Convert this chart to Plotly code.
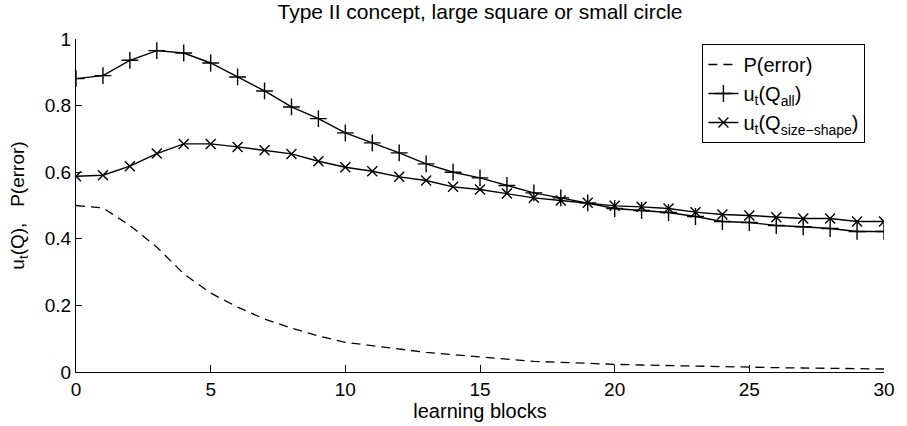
import plotly.graph_objects as go

# learning blocks 0..30
blocks = list(range(31))

# probability of error (dashed)
p_error = [0.500, 0.493, 0.440, 0.375, 0.295, 0.237, 0.195, 0.159, 0.132, 0.108,
           0.089, 0.079, 0.069, 0.059, 0.052, 0.045, 0.038, 0.032, 0.029, 0.025,
           0.023, 0.021, 0.019, 0.017, 0.015, 0.014, 0.013, 0.012, 0.011, 0.010,
           0.009]

# utility of the full query set
u_all = [0.881, 0.890, 0.936, 0.965, 0.958, 0.928, 0.886, 0.844, 0.796, 0.761,
         0.718, 0.688, 0.658, 0.625, 0.600, 0.583, 0.560, 0.538, 0.523, 0.508,
         0.491, 0.485, 0.479, 0.467, 0.452, 0.449, 0.440, 0.436, 0.431, 0.422,
         0.422]

# utility of the size-shape query set
u_size_shape = [0.588, 0.591, 0.618, 0.656, 0.685, 0.685, 0.676, 0.666, 0.655, 0.633,
                0.615, 0.603, 0.586, 0.575, 0.556, 0.548, 0.536, 0.523, 0.515, 0.508,
                0.499, 0.496, 0.491, 0.480, 0.473, 0.470, 0.465, 0.461, 0.461, 0.452,
                0.452]

x_ticks = [0, 5, 10, 15, 20, 25, 30]
y_ticks = [0, 0.2, 0.4, 0.6, 0.8, 1]

FONT = "Liberation Sans, Arial, Helvetica, sans-serif"

fig = go.Figure()
fig.add_trace(go.Scatter(
    x=blocks, y=p_error, mode="lines", name="P(error)",
    line=dict(color="black", width=1.3, dash="9px,6px"),
))
fig.add_trace(go.Scatter(
    x=blocks, y=u_all, mode="lines+markers", name="u<sub>t</sub>(Q<sub>all</sub>)",
    line=dict(color="black", width=1.4),
    marker=dict(symbol="cross-thin", size=12, line=dict(color="black", width=1.4)),
))
fig.add_trace(go.Scatter(
    x=blocks, y=u_size_shape, mode="lines+markers",
    name="u<sub>t</sub>(Q<sub>size\u2212shape</sub>)",
    line=dict(color="black", width=1.4),
    marker=dict(symbol="x-thin", size=10, line=dict(color="black", width=1.4)),
))

fig.update_layout(
    width=907, height=426,
    margin=dict(l=76, r=14, t=39, b=53),
    paper_bgcolor="white", plot_bgcolor="white",
    font=dict(family=FONT, size=19, color="black"),
    title=dict(text="Type II concept, large square or small circle",
               x=0.5, xanchor="center", y=0.972, yanchor="middle",
               xref="paper", font=dict(size=21)),
    showlegend=True,
    legend=dict(x=0.977, xanchor="right", y=0.985, yanchor="top",
                bgcolor="white", bordercolor="black", borderwidth=1,
                font=dict(size=20), tracegroupgap=0, itemwidth=30),
)
fig.update_xaxes(
    range=[0, 30], tickvals=x_ticks, ticks="inside", ticklen=7,
    tickcolor="black", showline=True, linecolor="black", linewidth=1,
    showgrid=False, zeroline=False, mirror=False,
    title=dict(text="learning blocks", standoff=0, font=dict(size=20)),
)
fig.update_yaxes(
    range=[0, 1], tickvals=y_ticks, ticks="inside", ticklen=6,
    tickcolor="black", showline=True, linecolor="black", linewidth=1,
    showgrid=False, zeroline=False, mirror=False,
    title=dict(text="u<sub>t</sub>(Q),   P(error)", standoff=15, font=dict(size=19)),
)

fig.write_html("out.html")
